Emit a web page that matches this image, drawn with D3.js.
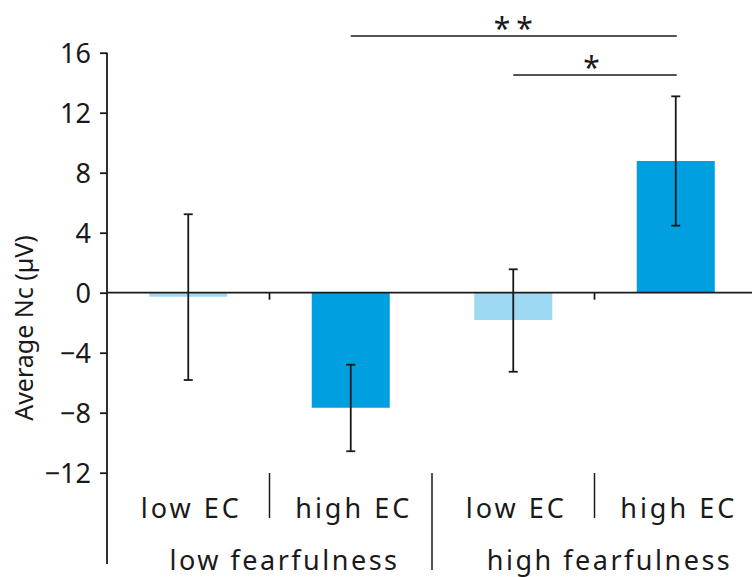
<!DOCTYPE html>
<html>
<head>
<meta charset="utf-8">
<script src="https://cdn.jsdelivr.net/npm/d3@7"></script>
<style>
  body { margin: 0; background: #fff; }
  text { font-family: "Noto Sans", sans-serif; fill: #1a1a1a; }
</style>
</head>
<body>
<div id="chart"></div>
<script>
// data
const conditions = ["low EC", "high EC", "low EC", "high EC"];
const groups = ["low fearfulness", "high fearfulness"];
const means = [-0.27, -7.67, -1.82, 8.78];
const errTop = [5.23, -4.8, 1.56, 13.09];
const errBottom = [-5.82, -10.57, -5.27, 4.47];
const yTicks = [16, 12, 8, 4, 0, -4, -8, -12];
const barColors = ["#9dd9f3", "#009fe0", "#9dd9f3", "#009fe0"];
const sigPairs = [
  { from: 1, to: 3, label: "**", level: 0 },
  { from: 2, to: 3, label: "*", level: 1 }
];

const width = 752, height = 577;
const axisX = 107;

const svg = d3.select("#chart").append("svg")
  .attr("width", width)
  .attr("height", height);

// scales
const x = d3.scaleBand()
  .domain(d3.range(conditions.length))
  .range([axisX, axisX + 650])
  .paddingInner(0.52)
  .paddingOuter(0.26);

const y = d3.scaleLinear()
  .domain([-12, 16])
  .range([472.7, 52.7]);

const step = x.step();
const bandLeft = i => axisX + i * step;

// y axis
const yAxis = svg.append("g")
  .attr("transform", `translate(${axisX},0)`)
  .call(d3.axisLeft(y).tickValues(yTicks).tickSize(7).tickSizeOuter(0)
    .tickFormat(d => d < 0 ? "\u2212" + Math.abs(d) : d));
yAxis.select(".domain").remove();
yAxis.selectAll(".tick line").attr("stroke", "#1a1a1a").attr("stroke-width", 1.8);
yAxis.selectAll(".tick text")
  .attr("x", -16)
  .attr("dy", "0.36em")
  .style("font-size", "27px")
  .style("fill", "#1a1a1a");

svg.append("line")
  .attr("x1", axisX).attr("x2", axisX)
  .attr("y1", y(16)).attr("y2", 564)
  .attr("stroke", "#1a1a1a").attr("stroke-width", 1.8);

// y label
svg.append("text")
  .attr("transform", "translate(33,328) rotate(-90)")
  .attr("text-anchor", "middle")
  .style("font-size", "25px")
  .text("Average Nc (\u00b5V)");

// bars
svg.selectAll(".bar")
  .data(means)
  .enter().append("rect")
  .attr("class", "bar")
  .attr("x", (d, i) => x(i))
  .attr("width", x.bandwidth())
  .attr("y", d => y(Math.max(0, d)))
  .attr("height", d => Math.abs(y(d) - y(0)))
  .attr("fill", (d, i) => barColors[i]);

// zero line
svg.append("line")
  .attr("x1", axisX).attr("x2", width)
  .attr("y1", y(0)).attr("y2", y(0))
  .attr("stroke", "#1a1a1a").attr("stroke-width", 1.8);

// small ticks under zero line between conditions in each group
[1, 3].forEach(i => {
  svg.append("line")
    .attr("x1", bandLeft(i)).attr("x2", bandLeft(i))
    .attr("y1", y(0)).attr("y2", y(0) + 7)
    .attr("stroke", "#1a1a1a").attr("stroke-width", 1.8);
});

// error bars
const cap = 4.5;
const eb = svg.selectAll(".err")
  .data(means)
  .enter().append("g")
  .attr("class", "err")
  .attr("stroke", "#1a1a1a")
  .attr("stroke-width", 1.8);
eb.append("line")
  .attr("x1", (d, i) => x(i) + x.bandwidth() / 2)
  .attr("x2", (d, i) => x(i) + x.bandwidth() / 2)
  .attr("y1", (d, i) => y(errTop[i]))
  .attr("y2", (d, i) => y(errBottom[i]));
eb.append("line")
  .attr("x1", (d, i) => x(i) + x.bandwidth() / 2 - cap)
  .attr("x2", (d, i) => x(i) + x.bandwidth() / 2 + cap)
  .attr("y1", (d, i) => y(errTop[i]))
  .attr("y2", (d, i) => y(errTop[i]));
eb.append("line")
  .attr("x1", (d, i) => x(i) + x.bandwidth() / 2 - cap)
  .attr("x2", (d, i) => x(i) + x.bandwidth() / 2 + cap)
  .attr("y1", (d, i) => y(errBottom[i]))
  .attr("y2", (d, i) => y(errBottom[i]));

// significance brackets
const center = i => x(i) + x.bandwidth() / 2;
sigPairs.forEach(p => {
  const ly = 36 + p.level * 39;
  svg.append("line")
    .attr("x1", center(p.from)).attr("x2", center(p.to) + 1)
    .attr("y1", ly).attr("y2", ly)
    .attr("stroke", "#1a1a1a").attr("stroke-width", 1.5);
  svg.append("text")
    .attr("x", (center(p.from) + center(p.to)) / 2 + (p.label.length > 1 ? 3 : 0))
    .attr("y", ly + 3)
    .attr("text-anchor", "middle")
    .style("font-size", "30px")
    .style("letter-spacing", "6px")
    .text(p.label);
});

// category labels
svg.selectAll(".cond")
  .data(conditions)
  .enter().append("text")
  .attr("class", "cond")
  .attr("x", (d, i) => center(i) + 3)
  .attr("y", 518)
  .attr("text-anchor", "middle")
  .style("font-size", "27px")
  .style("letter-spacing", "3px")
  .text(d => d);

// group labels
svg.selectAll(".grp")
  .data(groups)
  .enter().append("text")
  .attr("class", "grp")
  .attr("x", (d, i) => bandLeft(i * 2 + 1) + 15)
  .attr("y", 570)
  .attr("text-anchor", "middle")
  .style("font-size", "27px")
  .style("letter-spacing", "2.5px")
  .text(d => d);

// dividers
[{ i: 1, long: false }, { i: 2, long: true }, { i: 3, long: false }].forEach(dv => {
  svg.append("line")
    .attr("x1", bandLeft(dv.i)).attr("x2", bandLeft(dv.i))
    .attr("y1", 473).attr("y2", dv.long ? 570 : 518)
    .attr("stroke", "#1a1a1a").attr("stroke-width", 1.5);
});
</script>
</body>
</html>
